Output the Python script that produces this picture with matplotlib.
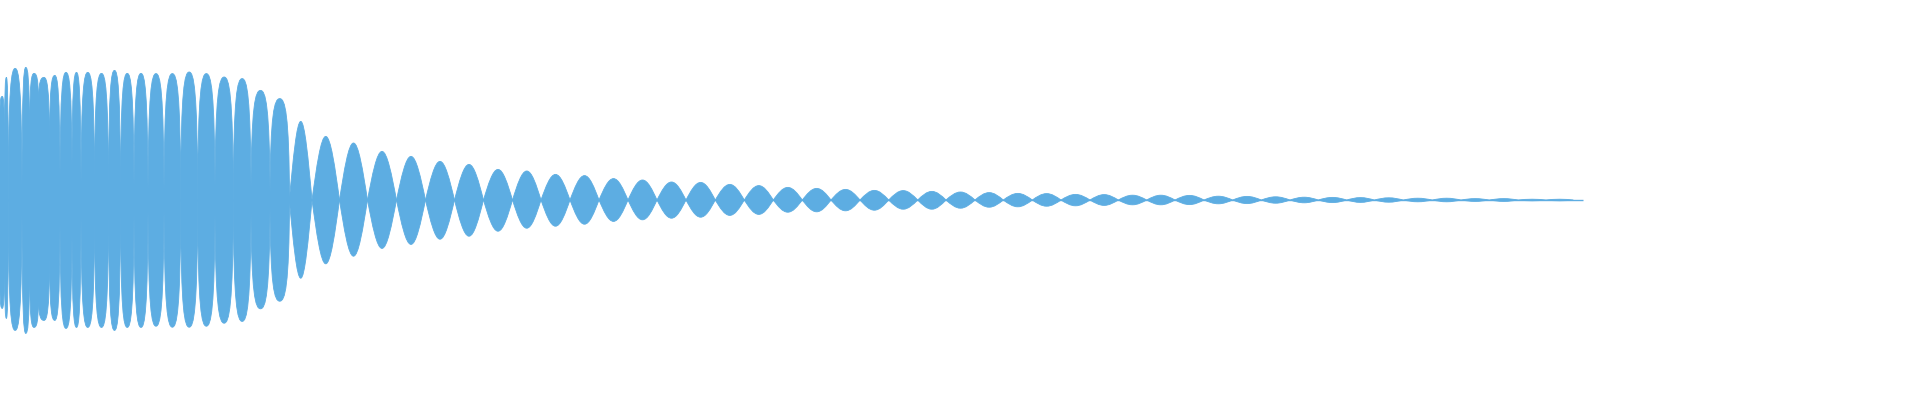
import numpy as np
import matplotlib
matplotlib.use("Agg")
import matplotlib.pyplot as plt
from matplotlib.path import Path
from matplotlib.patches import PathPatch

# posicao dos nos (colunas) entre os lobulos da forma de onda
NODES = [0, 4.5, 8.3, 22, 29.5, 38.5, 49.5, 60, 72, 81, 94.5, 108.5, 120.5, 134,
         148, 164, 180.7, 197.7, 215, 233.3, 251, 270, 289.5,
         312, 339.5, 367.5, 396.5, 425.5, 454.5, 483.5, 512.5, 541, 570, 599, 628,
         657, 686, 715.3, 744.3, 773.3, 802.3, 831, 860, 888.7, 917.7, 946, 975,
         1003.3, 1032.3, 1061, 1090, 1118.3, 1146.7, 1175, 1204, 1232.7, 1261.3,
         1290, 1318.3, 1346.7, 1374.3, 1403.3, 1432.3, 1461, 1489.3, 1518.3, 1546,
         1573.3]
END = 1583

# amplitude de pico de cada lobulo (positiva e negativa)
TOP = [0.518, 0.613, 0.658, 0.663, 0.633, 0.613, 0.623, 0.638, 0.638, 0.638,
       0.633, 0.648, 0.633, 0.633, 0.632, 0.632, 0.640, 0.632, 0.615, 0.607,
       0.548, 0.507, 0.393, 0.318, 0.285, 0.243, 0.218, 0.193, 0.178, 0.153,
       0.145, 0.128, 0.122, 0.107, 0.100, 0.090, 0.088, 0.078, 0.072, 0.063,
       0.058, 0.053, 0.048, 0.047, 0.043, 0.040, 0.037, 0.033, 0.032, 0.028,
       0.027, 0.024, 0.024, 0.023, 0.019, 0.018, 0.016, 0.014, 0.013, 0.012,
       0.011, 0.009, 0.009, 0.007, 0.007, 0.004, 0.004]
BOTTOM = [0.542, 0.592, 0.652, 0.667, 0.637, 0.602, 0.602, 0.642, 0.637, 0.637,
          0.637, 0.652, 0.637, 0.637, 0.631, 0.636, 0.636, 0.631, 0.616, 0.607,
          0.544, 0.506, 0.391, 0.319, 0.281, 0.242, 0.222, 0.196, 0.181, 0.156,
          0.141, 0.131, 0.121, 0.107, 0.099, 0.091, 0.086, 0.077, 0.072, 0.061,
          0.059, 0.054, 0.051, 0.046, 0.046, 0.041, 0.036, 0.034, 0.031, 0.029,
          0.027, 0.024, 0.024, 0.023, 0.019, 0.018, 0.016, 0.014, 0.013, 0.012,
          0.011, 0.009, 0.009, 0.007, 0.007, 0.004, 0.004]

# amplitude residual nos nos (so no comeco), o resto e zero
FLOOR = [0.45, 0.30, 0.055, 0.055, 0.35, 0.50, 0.30, 0.11, 0.16, 0.07, 0.10,
         0.07, 0.055, 0.06, 0.04, 0.04, 0.055, 0.04, 0.06, 0.035, 0.05, 0.03, 0.01]

COR = "#5DADE2"


def lobulo(x0, x1, f0, f1, h, sinal, cheio):
    # meia onda desenhada com curvas de bezier
    w = (x1 - x0) / 2
    xc = x0 + w
    if cheio:
        a, b, c = 0.04, 0.85, 0.55
    else:
        a, b, c = 0.3258, 0.5117, 0.362
    pts = [(x0, sinal * f0),
           (x0 + a * w, sinal * (f0 + b * (h - f0))), (xc - c * w, sinal * h), (xc, sinal * h),
           (xc + c * w, sinal * h), (x1 - a * w, sinal * (f1 + b * (h - f1))), (x1, sinal * f1)]
    return pts


def main():
    fig = plt.figure(figsize=(19.2, 4), dpi=100)
    ax = fig.add_axes([0, 0, 1, 1])
    ax.set_xlim(0, 1920)
    ax.set_ylim(-1, 1)
    ax.axis("off")

    floor = FLOOR + [0] * (len(NODES) - len(FLOOR))

    for i in range(len(TOP)):
        x0, x1 = NODES[i], NODES[i + 1]
        f0, f1 = floor[i], floor[i + 1]
        cheio = (x1 - x0) < 21
        cima = lobulo(x0, x1, f0, f1, TOP[i], 1, cheio)
        baixo = lobulo(x0, x1, f0, f1, BOTTOM[i], -1, cheio)[::-1]
        verts = cima + baixo + [cima[0]]
        codes = ([Path.MOVETO] + [Path.CURVE4] * 6 + [Path.LINETO]
                 + [Path.CURVE4] * 6 + [Path.CLOSEPOLY])
        patch = PathPatch(Path(verts, codes), facecolor=COR, edgecolor=COR, lw=0.6)
        ax.add_patch(patch)

    # linha central fina ate o fim do sinal
    ax.plot([NODES[0], END], [0, 0], color=COR, lw=1.0, solid_capstyle="butt")

    fig.savefig("out.png", dpi=100, facecolor="white")


if __name__ == "__main__":
    main()
